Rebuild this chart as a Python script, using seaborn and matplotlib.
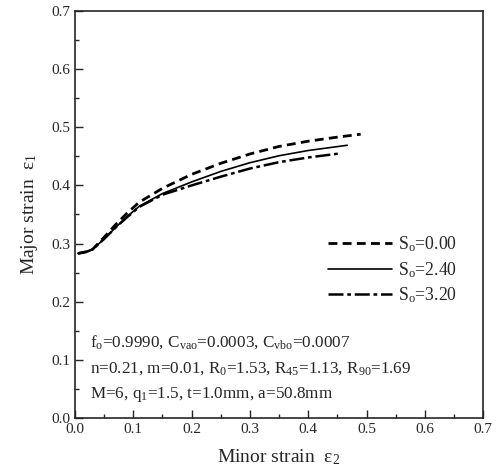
import matplotlib
matplotlib.use("Agg")
import matplotlib.pyplot as plt
import seaborn as sns
from matplotlib.ticker import MultipleLocator, FormatStrFormatter

# --- Datos ---
x_s000 = [0.005, 0.02, 0.03, 0.05, 0.07, 0.09, 0.11, 0.15, 0.20, 0.25, 0.30, 0.35, 0.40, 0.45, 0.49]
y_s000 = [0.283, 0.286, 0.290, 0.311, 0.333, 0.353, 0.371, 0.395, 0.419, 0.438, 0.454, 0.467, 0.476, 0.483, 0.488]

x_s240 = [0.005, 0.02, 0.03, 0.05, 0.07, 0.09, 0.11, 0.15, 0.20, 0.25, 0.30, 0.35, 0.40, 0.467]
y_s240 = [0.283, 0.286, 0.290, 0.308, 0.328, 0.347, 0.364, 0.386, 0.406, 0.424, 0.439, 0.451, 0.460, 0.469]

x_s320 = [0.005, 0.02, 0.03, 0.05, 0.07, 0.09, 0.11, 0.15, 0.20, 0.25, 0.30, 0.35, 0.40, 0.455]
y_s320 = [0.283, 0.286, 0.290, 0.308, 0.328, 0.346, 0.363, 0.384, 0.400, 0.415, 0.429, 0.440, 0.448, 0.455]

etiquetas = [r"S$_\mathrm{o}$=0.00", r"S$_\mathrm{o}$=2.40", r"S$_\mathrm{o}$=3.20"]

notas = [
    r"f$_\mathrm{o}$=0.9990, C$_\mathrm{vao}$=0.0003, C$_\mathrm{vbo}$=0.0007",
    r"n=0.21, m=0.01, R$_\mathrm{0}$=1.53, R$_\mathrm{45}$=1.13, R$_\mathrm{90}$=1.69",
    r"M=6, q$_\mathrm{1}$=1.5, t=1.0mm, a=50.8mm",
]

# --- Estilo ---
sns.set_style("ticks")
plt.rcParams["font.family"] = ["Liberation Serif", "DejaVu Serif"]
plt.rcParams["mathtext.fontset"] = "custom"
plt.rcParams["mathtext.rm"] = "Liberation Serif"
plt.rcParams["mathtext.it"] = "Liberation Serif:italic"

fig = plt.figure(figsize=(4.97, 4.74), dpi=100)
ax = fig.add_axes([0.151, 0.118, 0.821, 0.859])

sns.lineplot(x=x_s000, y=y_s000, ax=ax, color="black", lw=2.0, label=etiquetas[0],
             estimator=None, sort=False)
ax.lines[-1].set_dashes((3.2, 1.9))
sns.lineplot(x=x_s240, y=y_s240, ax=ax, color="black", lw=1.2, label=etiquetas[1],
             estimator=None, sort=False)
sns.lineplot(x=x_s320, y=y_s320, ax=ax, color="black", lw=1.8, label=etiquetas[2],
             estimator=None, sort=False)
ax.lines[-1].set_dashes((6, 1.5, 1.5, 1.5))

ax.set_xlim(0, 0.7)
ax.set_ylim(0, 0.7)
ax.xaxis.set_major_locator(MultipleLocator(0.1))
ax.yaxis.set_major_locator(MultipleLocator(0.1))
ax.xaxis.set_minor_locator(MultipleLocator(0.05))
ax.yaxis.set_minor_locator(MultipleLocator(0.05))
ax.xaxis.set_major_formatter(FormatStrFormatter("%.1f"))
ax.yaxis.set_major_formatter(FormatStrFormatter("%.1f"))
ax.tick_params(which="major", direction="in", length=6, width=1, labelsize=11)
ax.tick_params(which="minor", direction="in", length=3, width=1)
for s in ax.spines.values():
    s.set_linewidth(1.2)
    s.set_visible(True)

ax.set_xlabel("Minor strain  ε$_\\mathrm{2}$", fontsize=14, labelpad=8)
ax.set_ylabel("Major strain  ε$_\\mathrm{1}$", fontsize=14, labelpad=8)

leg = ax.legend(loc="center left", bbox_to_anchor=(0.62, 0.364), frameon=False,
                fontsize=12.8, handlelength=3.6, handletextpad=0.35, labelspacing=0.33,
                borderpad=0, borderaxespad=0)

for i, t in enumerate(notas):
    ax.text(0.036, 0.186 - i * 0.064, t, transform=ax.transAxes, fontsize=12.3,
            ha="left", va="center")

fig.savefig("out.png", dpi=100)
